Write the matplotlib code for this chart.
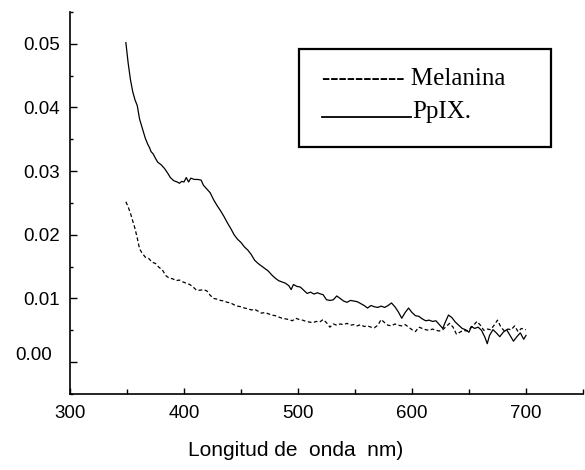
import matplotlib
matplotlib.use("Agg")
import matplotlib.pyplot as plt
from matplotlib.ticker import MultipleLocator
from matplotlib.patches import Rectangle
from matplotlib.lines import Line2D

plt.rcParams["font.family"] = ["Liberation Sans", "DejaVu Sans"]

# PpIX (solid)
ppix_nm = [349, 351, 353, 355, 357, 359, 361, 364, 366, 368, 370, 371, 373, 375, 377,
           380, 383, 386, 388, 391, 394, 396, 398, 400, 402, 404, 406, 409, 412, 415,
           417, 419, 421, 423, 426, 429, 432, 435, 438, 441, 444, 447, 450, 453, 456,
           459, 462, 465, 468, 471, 474, 477, 480, 483, 486, 489, 492, 494, 496, 499,
           502, 505, 508, 511, 514, 517, 520, 522, 525, 528, 531, 534, 537, 540, 543,
           546, 549, 552, 555, 558, 561, 564, 567, 570, 573, 576, 579, 582, 585, 588,
           591, 594, 597, 600, 603, 606, 609, 612, 615, 618, 621, 624, 627, 629, 632,
           635, 638, 641, 644, 647, 650, 652, 655, 658, 661, 664, 666, 668, 671, 674,
           677, 680, 683, 686, 689, 692, 695, 698, 700]
ppix_val = [0.0502, 0.0470, 0.0444, 0.0425, 0.0412, 0.0403, 0.0382, 0.0364, 0.0352, 0.0343,
            0.0336, 0.0331, 0.0327, 0.0320, 0.0314, 0.0310, 0.0304, 0.0296, 0.0290, 0.0285,
            0.0283, 0.0281, 0.0284, 0.0283, 0.0290, 0.0283, 0.0289, 0.0287, 0.0287, 0.0286,
            0.0278, 0.0274, 0.0270, 0.0266, 0.0255, 0.0246, 0.0238, 0.0229, 0.0219, 0.0210,
            0.0200, 0.0193, 0.0188, 0.0181, 0.0176, 0.0169, 0.0160, 0.0155, 0.0151, 0.0147,
            0.0143, 0.0137, 0.0132, 0.0128, 0.0126, 0.0124, 0.0120, 0.0114, 0.0122, 0.0119,
            0.0118, 0.0113, 0.0108, 0.0110, 0.0107, 0.0109, 0.0107, 0.0106, 0.0098, 0.0097,
            0.0098, 0.0104, 0.0100, 0.0096, 0.0094, 0.0097, 0.0096, 0.0095, 0.0092, 0.0089,
            0.0085, 0.0089, 0.0087, 0.0086, 0.0088, 0.0086, 0.0089, 0.0093, 0.0087, 0.0079,
            0.0069, 0.0078, 0.0085, 0.0078, 0.0073, 0.0072, 0.0068, 0.0065, 0.0066, 0.0064,
            0.0065, 0.0059, 0.0053, 0.0062, 0.0074, 0.0070, 0.0063, 0.0058, 0.0053, 0.0051,
            0.0047, 0.0056, 0.0053, 0.0055, 0.0050, 0.0039, 0.0029, 0.0042, 0.0051, 0.0046,
            0.0040, 0.0047, 0.0051, 0.0042, 0.0033, 0.0040, 0.0046, 0.0036, 0.0042]

# Melanina (dashed)
mel_nm = [349, 351, 353, 355, 357, 359, 361, 363, 366, 369, 372, 375, 378, 381, 384,
          387, 390, 393, 396, 399, 402, 405, 408, 411, 414, 417, 420, 423, 426, 429,
          432, 435, 438, 441, 444, 447, 450, 453, 456, 459, 462, 465, 468, 471, 474,
          477, 480, 483, 486, 489, 492, 495, 498, 501, 504, 507, 510, 513, 516, 519,
          522, 525, 528, 531, 534, 537, 540, 543, 546, 549, 552, 555, 558, 561, 564,
          567, 570, 573, 576, 579, 582, 585, 588, 591, 594, 597, 600, 603, 606, 609,
          612, 615, 618, 621, 624, 627, 630, 633, 636, 639, 642, 645, 648, 651, 654,
          657, 660, 663, 666, 669, 672, 675, 678, 681, 684, 687, 690, 693, 696, 700]
mel_val = [0.0252, 0.0244, 0.0234, 0.0222, 0.0210, 0.0195, 0.0178, 0.0172, 0.0165, 0.0163,
           0.0157, 0.0155, 0.0149, 0.0145, 0.0136, 0.0132, 0.0131, 0.0128, 0.0129, 0.0126,
           0.0124, 0.0122, 0.0118, 0.0113, 0.0113, 0.0114, 0.0112, 0.0105, 0.0100, 0.0099,
           0.0097, 0.0096, 0.0094, 0.0093, 0.0090, 0.0088, 0.0087, 0.0085, 0.0084, 0.0082,
           0.0083, 0.0080, 0.0077, 0.0078, 0.0076, 0.0074, 0.0073, 0.0071, 0.0069, 0.0068,
           0.0067, 0.0065, 0.0069, 0.0067, 0.0066, 0.0064, 0.0063, 0.0062, 0.0064, 0.0063,
           0.0067, 0.0062, 0.0055, 0.0060, 0.0058, 0.0060, 0.0059, 0.0061, 0.0058, 0.0059,
           0.0057, 0.0059, 0.0056, 0.0057, 0.0055, 0.0054, 0.0058, 0.0067, 0.0062, 0.0058,
           0.0057, 0.0060, 0.0058, 0.0057, 0.0059, 0.0055, 0.0051, 0.0048, 0.0055, 0.0053,
           0.0051, 0.0050, 0.0052, 0.0050, 0.0049, 0.0051, 0.0056, 0.0061, 0.0055, 0.0044,
           0.0047, 0.0050, 0.0049, 0.0053, 0.0058, 0.0064, 0.0058, 0.0050, 0.0052, 0.0051,
           0.0058, 0.0066, 0.0055, 0.0049, 0.0052, 0.0051, 0.0057, 0.0048, 0.0053, 0.0051]

y_ticks = [0.00, 0.01, 0.02, 0.03, 0.04, 0.05]
y_ticklabels = ["", "0.01", "0.02", "0.03", "0.04", "0.05"]
x_ticks = [300, 400, 500, 600, 700]

W, H = 585, 470
fig = plt.figure(figsize=(W / 100, H / 100), dpi=100)
ax = fig.add_axes([70 / W, 1 - 394 / H, 513 / W, 382 / H])

ax.plot(ppix_nm, ppix_val, color="black", lw=0.9)
ax.plot(mel_nm, mel_val, color="black", lw=0.9, ls=(0, (3, 2)))

ax.set_xlim(300, 750)
ax.set_ylim(-0.005, 0.055)
ax.spines["top"].set_visible(False)
ax.spines["right"].set_visible(False)
ax.spines["left"].set_linewidth(1.2)
ax.spines["bottom"].set_linewidth(1.2)

ax.set_xticks(x_ticks)
ax.xaxis.set_minor_locator(MultipleLocator(50))
ax.set_yticks(y_ticks)
ax.set_yticklabels(y_ticklabels)
ax.yaxis.set_minor_locator(MultipleLocator(0.005))
ax.tick_params(axis="both", which="major", direction="in", labelsize=13.5, width=1)
ax.tick_params(axis="y", which="major", length=5, pad=7)
ax.tick_params(axis="x", which="major", length=4, pad=8)
ax.tick_params(axis="y", which="minor", direction="in", length=2.5, width=1)
ax.tick_params(axis="x", which="minor", direction="in", length=3.5, width=1)

# the 0.00 label sits a little off in the original
ax.text(52 / W, 1 - 355 / H, "0.00", transform=fig.transFigure,
        ha="right", va="center", fontsize=13.5)

fig.text(296 / W, 1 - 450 / H, "Longitud de  onda  nm)", ha="center", va="center",
         fontsize=15)

# hand-drawn style legend box
fig.patches.append(Rectangle((299 / W, 1 - 147 / H), 252 / W, 98 / H,
                             transform=fig.transFigure, fill=False,
                             edgecolor="black", lw=1.6))
fig.text(322 / W, 1 - 85 / H, "---------- Melanina", family="Liberation Serif",
         fontsize=18, ha="left", va="baseline")
fig.lines.append(Line2D([322 / W, 411 / W], [1 - 117 / H, 1 - 117 / H],
                        transform=fig.transFigure, color="black", lw=1.3))
fig.text(412 / W, 1 - 118 / H, "PpIX.", family="Liberation Serif",
         fontsize=18, ha="left", va="baseline")

fig.savefig("out.png", dpi=100)
